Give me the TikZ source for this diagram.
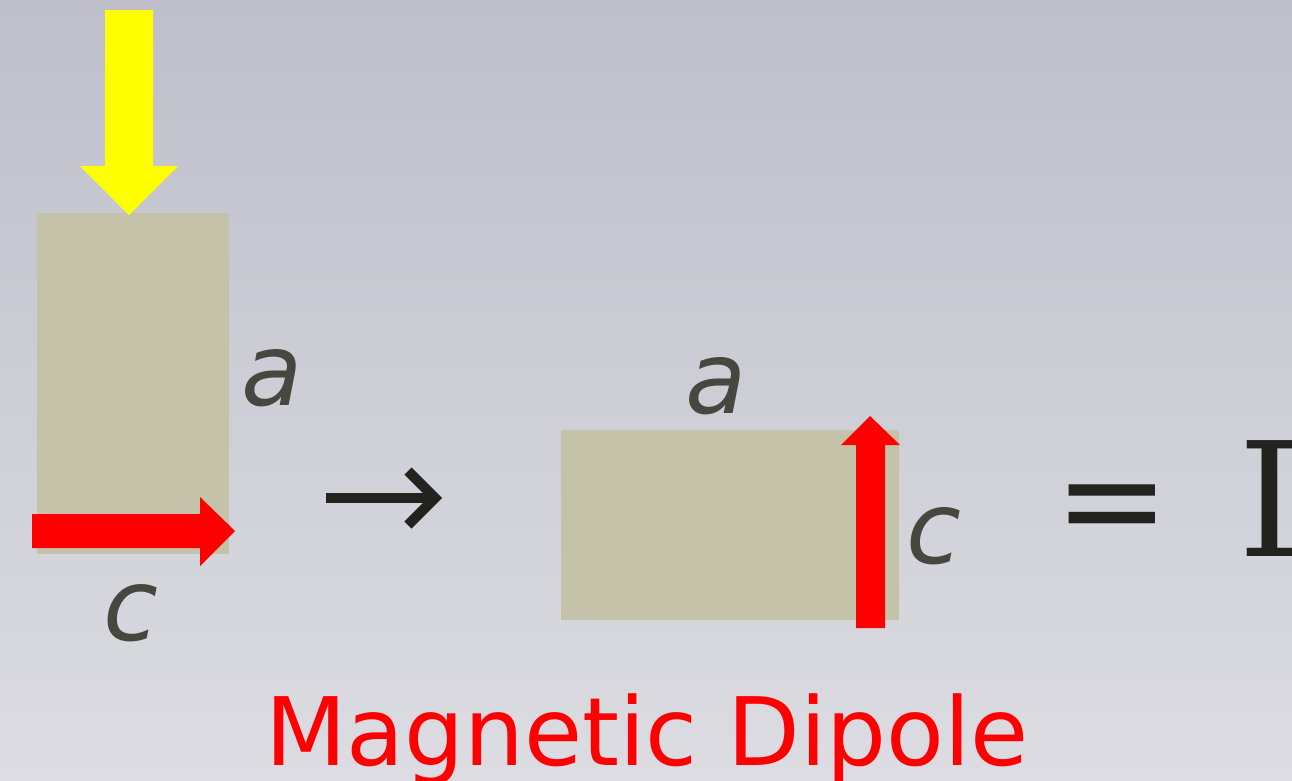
\documentclass[tikz,border=0pt]{standalone}
\usepackage{fontspec}
\setmainfont{DejaVu Sans}
\newfontfamily\serifI{DejaVu Serif}
\definecolor{bgtop}{RGB}{191,191,203}
\definecolor{bgbot}{RGB}{220,220,226}
\definecolor{slab}{RGB}{196,195,169}
\definecolor{lbl}{RGB}{71,71,64}
\definecolor{ink}{RGB}{34,34,30}
\definecolor{ared}{RGB}{255,0,0}
\definecolor{ayel}{RGB}{255,255,0}
\tikzset{
  varlbl/.style={text=lbl, font=\fontsize{100}{100}\selectfont\itshape, inner sep=0, anchor=base},
  symb/.style={text=ink, inner sep=0},
  mapsto/.style={draw=ink, line width=10pt, line cap=butt},
}
\begin{document}
\begin{tikzpicture}[x=1pt,y=-1pt]
\shade[top color=bgtop, bottom color=bgbot] (0,0) rectangle (1292,780);
\useasboundingbox (0,0) rectangle (1292,780);
% left slab
\fill[slab] (37,213) rectangle (229,554);
% yellow arrow
\fill[ayel] (105,10) -- (153,10) -- (153,166) -- (178,166) -- (129,215) -- (80,166) -- (105,166) -- cycle;
% red horizontal arrow
\fill[ared] (32,514) -- (200,514) -- (200,497) -- (235,531) -- (200,566) -- (200,548) -- (32,548) -- cycle;
\node[varlbl] (la) at (272,405) {a};
\node[varlbl] (lc) at (131,640) {c};
% transform arrow
\coordinate (tofrom) at (326,498);
\coordinate (totip) at (435,498);
\draw[mapsto] (tofrom) -- ([xshift=-4pt]totip);
\draw[mapsto, line join=miter] ([xshift=-27pt,yshift=-27pt]totip) -- (totip) -- ([xshift=-27pt,yshift=27pt]totip);
% right slab
\fill[slab] (561,430) rectangle (899,620);
% red vertical arrow
\fill[ared] (856,628) -- (856,445) -- (841,445) -- (870,416) -- (900,445) -- (885,445) -- (885,628) -- cycle;
\node[varlbl] (ra) at (716,413) {a};
\node[varlbl] (rc) at (934,563) {c};
% equals I
\node[symb, font=\fontsize{138}{138}\selectfont] (eq) at (1112,516) {=};
\node[symb, font=\fontsize{159}{159}\selectfont\serifI, anchor=west] (I) at (1238,499) {I};
% title
\node[text=ared, font=\fontsize{94.5}{94.5}\selectfont, inner sep=0, anchor=base] (title) at (647,765) {Magnetic Dipole};
\end{tikzpicture}
\end{document}
